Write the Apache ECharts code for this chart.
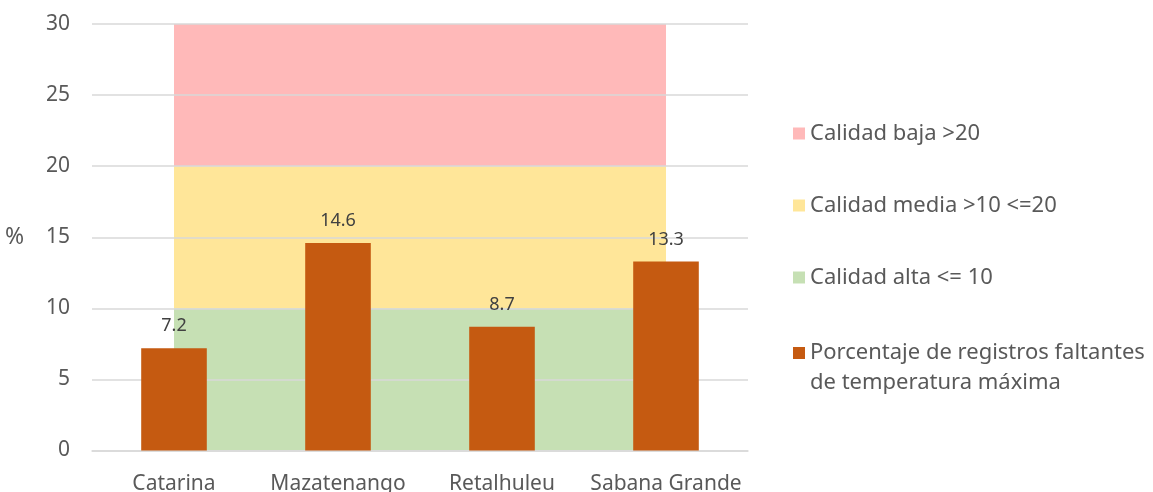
<!DOCTYPE html>
<html>
<head>
<meta charset="utf-8">
<script src="https://cdn.jsdelivr.net/npm/echarts@6/dist/echarts.min.js"></script>
<style>
	html, body { margin: 0; padding: 0; background: #fff; }
	#main { width: 1153px; height: 492px; }
</style>
</head>
<body>
<div id="main"></div>
<script>
	'use strict';

	var estaciones = ['Catarina', 'Mazatenango', 'Retalhuleu', 'Sabana Grande'];
	var faltantes = [7.2, 14.6, 8.7, 13.3];
	// each band is stacked on the one below: 0-10, 10-20, 20-30
	var bandaAlta = [10, 10, 10, 10];
	var bandaMedia = [10, 10, 10, 10];
	var bandaBaja = [10, 10, 10, 10];

	var nombreBarras = 'Porcentaje de registros faltantes de temperatura máxima';
	var fuente = '"Noto Sans", "Open Sans", sans-serif';
	var gris = '#595959';

	var chart = echarts.init(document.getElementById('main'));

	function banda(nombre, datos, color) {
		return {
			name: nombre,
			type: 'line',
			stack: 'banda',
			data: datos,
			symbol: 'none',
			z: -1,
			lineStyle: { width: 0 },
			areaStyle: { color: color, opacity: 1 },
			itemStyle: { color: color },
			silent: true
		};
	}

	var leyenda = {
		orient: 'vertical',
		left: 788,
		icon: 'rect',
		itemWidth: 12,
		itemHeight: 12,
		itemGap: 48,
		textStyle: { color: gris, fontSize: 22, lineHeight: 25 }
	};

	chart.setOption({
		animation: false,
		textStyle: { fontFamily: fuente },
		grid: {
			left: 92,
			right: 405,
			top: 24,
			bottom: 41.5,
			outerBoundsMode: 'none'
		},
		legend: [
			Object.assign({}, leyenda, {
				top: 116,
				itemGap: 47,
				data: ['Calidad baja >20', 'Calidad media >10 <=20', 'Calidad alta <= 10']
			}),
			// blank first line keeps the icon level with the first text line
			Object.assign({}, leyenda, {
				top: 303,
				textStyle: { color: gris, fontSize: 22, lineHeight: 30 },
				data: [nombreBarras],
				formatter: function(name) {
					return ' \n' + name.replace(' de temperatura', '\nde temperatura');
				}
			})
		],
		xAxis: {
			type: 'category',
			data: estaciones,
			axisTick: { show: false },
			axisLine: { lineStyle: { color: '#d9d9d9', width: 1.5 } },
			axisLabel: { color: gris, fontSize: 21, margin: 23, interval: 0 }
		},
		yAxis: {
			type: 'value',
			min: 0,
			max: 30,
			interval: 5,
			name: '%',
			nameLocation: 'middle',
			nameRotate: 0,
			nameGap: 68,
			nameTextStyle: { color: gris, fontSize: 23, padding: [6, 0, 0, 0] },
			axisLabel: { color: gris, fontSize: 21, margin: 22 },
			splitLine: { lineStyle: { color: '#d9d9d9', width: 1.5 } }
		},
		series: [
			banda('Calidad alta <= 10', bandaAlta, '#c6e0b4'),
			banda('Calidad media >10 <=20', bandaMedia, '#ffe699'),
			banda('Calidad baja >20', bandaBaja, '#ffb9b9'),
			{
				name: nombreBarras,
				type: 'bar',
				data: faltantes,
				barWidth: '40%',
				z: 3,
				itemStyle: { color: '#c55a11' },
				label: {
					show: true,
					position: 'top',
					distance: 13,
					color: '#404040',
					fontSize: 18
				}
			}
		]
	});
</script>
</body>
</html>
